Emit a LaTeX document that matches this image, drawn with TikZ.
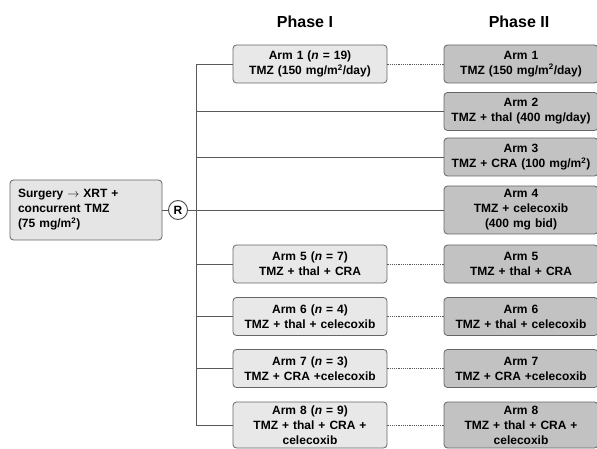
\documentclass[tikz,border=0pt]{standalone}
\usepackage{fontspec}
\setmainfont{Liberation Sans}
\tikzset{
  armbox/.style={draw=black!60, rounded corners=3.5pt, line width=0.8pt, text width=150pt, align=center,
                 minimum height=38pt, inner sep=2pt, font=\bfseries\fontsize{12}{15}\selectfont},
  phaseone/.style={armbox, fill=black!9},
  phasetwo/.style={armbox, fill=black!24},
  startbox/.style={armbox, fill=black!10, text width=136pt, inner xsep=8pt, align=left, minimum height=60pt},
  rbox/.style={circle, draw=black!70, line width=0.9pt, fill=white, minimum size=19pt, inner sep=0pt,
               font=\bfseries\fontsize{12}{14}\selectfont},
  head/.style={font=\bfseries\fontsize{16}{19}\selectfont},
  link/.style={draw=black!65, line width=0.9pt},
  dots/.style={draw=black!65, line width=0.9pt, dash pattern=on 1.2pt off 1pt}
}
\begin{document}
\begin{tikzpicture}[x=1pt, y=-1pt]
\useasboundingbox (0,0) rectangle (597,449);
\node[head] (phaseI) at (305,22) {Phase I};
\node[head] (phaseII) at (519,22) {Phase II};
% Behandlungsbeginn und Randomisierung
\node[startbox] (surg) at (86,210) {Surgery $\rightarrow$ XRT +\\ concurrent TMZ\\ (75 mg/m\textsuperscript{2})};
\node[rbox] (R) at (178,210) {R};
% Phase I
\node[phaseone] (p1a1) at (310,64) {Arm 1 (\textit{n} = 19)\\ TMZ (150 mg/m\textsuperscript{2}/day)};
\node[phaseone] (p1a5) at (310,264) {Arm 5 (\textit{n} = 7)\\ TMZ + thal + CRA};
\node[phaseone] (p1a6) at (310,316.5) {Arm 6 (\textit{n} = 4)\\ TMZ + thal + celecoxib};
\node[phaseone] (p1a7) at (310,368.5) {Arm 7 (\textit{n} = 3)\\ TMZ + CRA +celecoxib};
\node[phaseone, minimum height=46pt] (p1a8) at (310,425) {Arm 8 (\textit{n} = 9)\\ TMZ + thal + CRA +\\ celecoxib};
% Phase II
\node[phasetwo] (p2a1) at (521,64) {Arm 1\\ TMZ (150 mg/m\textsuperscript{2}/day)};
\node[phasetwo] (p2a2) at (521,111.5) {Arm 2\\ TMZ + thal (400 mg/day)};
\node[phasetwo] (p2a3) at (521,157) {Arm 3\\ TMZ + CRA (100 mg/m\textsuperscript{2})};
\node[phasetwo, minimum height=48pt] (p2a4) at (521,210) {Arm 4\\ TMZ + celecoxib\\ (400 mg bid)};
\node[phasetwo] (p2a5) at (521,264) {Arm 5\\ TMZ + thal + CRA};
\node[phasetwo] (p2a6) at (521,316.5) {Arm 6\\ TMZ + thal + celecoxib};
\node[phasetwo] (p2a7) at (521,368.5) {Arm 7\\ TMZ + CRA +celecoxib};
\node[phasetwo, minimum height=46pt] (p2a8) at (521,425) {Arm 8\\ TMZ + thal + CRA +\\ celecoxib};
% Verbindungen
\coordinate (top) at (196,64);
\coordinate (bot) at (196,425);
\draw[link] (top) -- (bot);
\draw[link] (top) -- (p1a1.west);
\draw[link] (p2a2.west -| top) -- (p2a2.west);
\draw[link] (p2a3.west -| top) -- (p2a3.west);
\draw[link] (surg) -- (R) -- (p2a4);
\foreach \i in {5,6,7}
  \draw[link] (p1a\i.west -| top) -- (p1a\i.west);
\draw[link] (bot) -- (p1a8.west);
\foreach \i in {1,5,6,7,8}
  \draw[dots] (p1a\i) -- (p2a\i);
\end{tikzpicture}
\end{document}
